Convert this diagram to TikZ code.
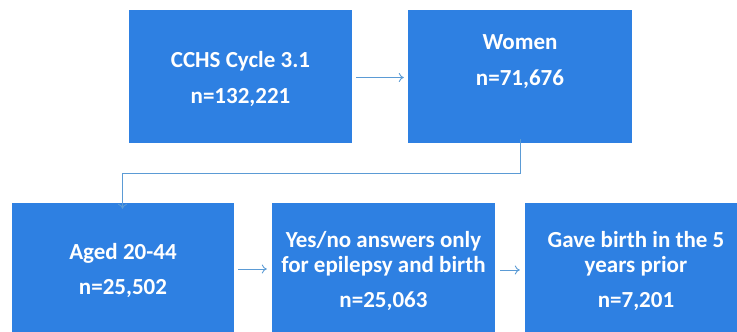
\documentclass[tikz,border=0pt]{standalone}
\usepackage{fontspec}
\setmainfont{Carlito}
\usetikzlibrary{arrows.meta}
\definecolor{boxblue}{RGB}{46,128,226}
\definecolor{linkblue}{RGB}{91,155,213}
\begin{document}
\begin{tikzpicture}[x=1pt,y=-1pt,
  box/.style={fill=boxblue,draw=none,inner sep=0pt},
  txt/.style={text=white,font=\fontsize{23}{27}\selectfont\bfseries,anchor=base,inner sep=0pt},
  link/.style={draw=linkblue,line width=0.9pt,-{To[length=5pt,width=9pt]}}]
\useasboundingbox (0,0) rectangle (737,332);
\clip (0,0) rectangle (737,332);
% boxes
\node[box,minimum width=223pt,minimum height=133pt] (b1) at (240.5,76.5) {};
\node[box,minimum width=224pt,minimum height=133pt] (b2) at (520,76.5) {};
\node[box,minimum width=222pt,minimum height=140pt] (b3) at (123,273) {};
\node[box,minimum width=223pt,minimum height=140pt] (b4) at (383.5,273) {};
\node[box,minimum width=230pt,minimum height=140pt] (b5) at (640,273) {};
% texts
\node[txt] (t1a) at (240.5,67.5) {CCHS Cycle 3.1};
\node[txt] (t1b) at (240.5,103.5) {n=132,221};
\node[txt] (t2a) at (520,49) {Women};
\node[txt] (t2b) at (520,85) {n=71,676};
\node[txt] (t3a) at (123,259) {Aged 20-44};
\node[txt] (t3b) at (123,294.5) {n=25,502};
\node[txt] (t4a) at (383.5,247.5) {Yes/no answers only};
\node[txt] (t4b) at (383.5,272) {for epilepsy and birth};
\node[txt] (t4c) at (383.5,307.5) {n=25,063};
\node[txt] (t5a) at (636,247.5) {Gave birth in the 5};
\node[txt] (t5b) at (636,272) {years prior};
\node[txt] (t5c) at (636,307.5) {n=7,201};
% connectors
\coordinate (c1) at (356,77.5);
\coordinate (c2) at (404,77.5);
\draw[link] (b1.east |- c1) ++(4,0) -- ([xshift=-4pt]b2.west |- c2);
\coordinate (k1) at (520,173);
\coordinate (k2) at (122.5,173);
\draw[link] ([yshift=4pt]b2.south) -- (k1) -- (k2) -- ([yshift=-6pt]b3.north -| k2);
\coordinate (c3) at (0,269);
\draw[link] ([xshift=4pt]b3.east |- c3) -- ([xshift=-5pt]b4.west |- c3);
\coordinate (c4) at (0,270);
\draw[link] ([xshift=5pt]b4.east |- c4) -- ([xshift=-5pt]b5.west |- c4);
\end{tikzpicture}
\end{document}
